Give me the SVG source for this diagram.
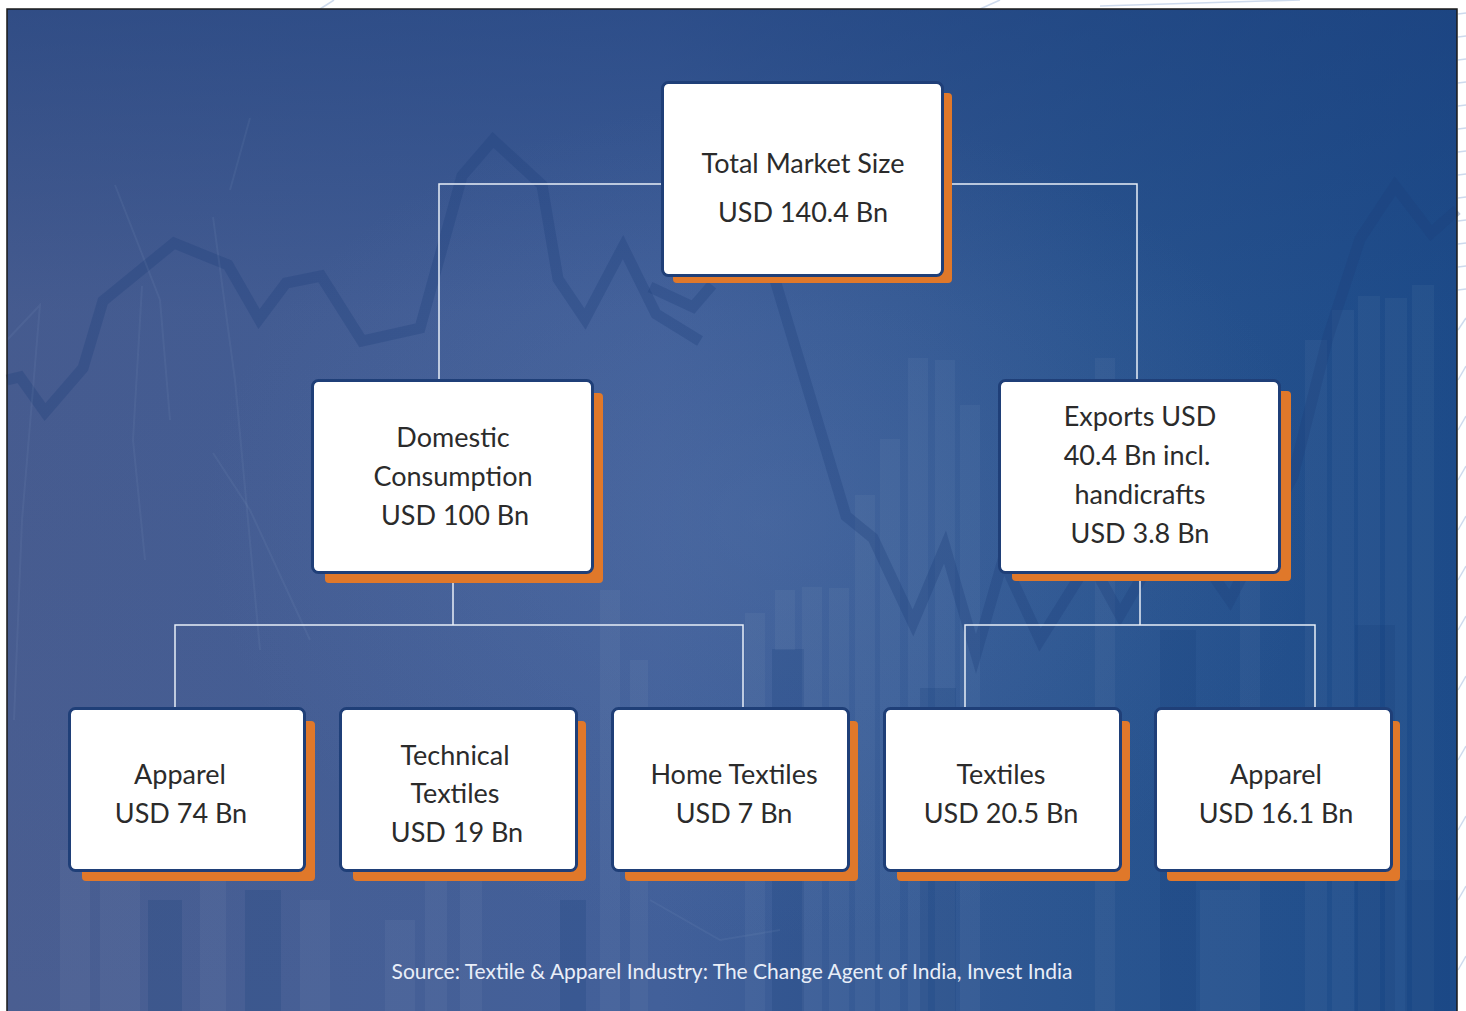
<svg xmlns="http://www.w3.org/2000/svg" width="1466" height="1011" viewBox="0 0 1466 1011">
  <defs>
    <linearGradient id="bgH" x1="0" y1="0" x2="1" y2="0">
      <stop offset="0" stop-color="#4a5e91"/>
      <stop offset="0.45" stop-color="#42609a"/>
      <stop offset="0.75" stop-color="#2a5590"/>
      <stop offset="1" stop-color="#1d4c8a"/>
    </linearGradient>
    <linearGradient id="bgV" x1="0" y1="0" x2="0" y2="1">
      <stop offset="0" stop-color="#1c3f7c" stop-opacity="0.55"/>
      <stop offset="0.3" stop-color="#1c3f7c" stop-opacity="0.1"/>
      <stop offset="1" stop-color="#1c3f7c" stop-opacity="0"/>
    </linearGradient>
    <radialGradient id="glow" cx="0.5" cy="0.5" r="0.5">
      <stop offset="0" stop-color="#6a86b8" stop-opacity="0.25"/>
      <stop offset="1" stop-color="#6a86b8" stop-opacity="0"/>
    </radialGradient>
    <style>
      .shadow { fill: #e0782a; }
      .card { fill: #ffffff; stroke: #1f3f78; stroke-width: 3; }
      .label { font-family: Lato, "Liberation Sans", sans-serif; font-size: 27px; fill: #2b2b2b; text-anchor: middle; }
      .wire { fill: none; stroke: #e8eef7; stroke-width: 1.5; }
      .trend { fill: none; stroke: #1f3f7c; stroke-width: 11; stroke-linejoin: miter; opacity: 0.3; }
      .bar-l { fill: #ffffff; opacity: 0.04; }
      .bar-d { fill: #123a78; opacity: 0.2; }
      .spark { stroke: #9fb4d8; stroke-width: 2; opacity: 0.09; fill: none; }
      .source { font-family: Lato, "Liberation Sans", sans-serif; font-size: 21px; fill: #e9eef8; text-anchor: middle; }
    </style>
  </defs>

  <!-- page margin with faint rules -->
  <rect x="0" y="0" width="1466" height="1011" fill="#ffffff"/>
  <g stroke="#b9cbe6" stroke-width="1.5" opacity="0.7">
    <line x1="1458" y1="14" x2="1466" y2="13"/>
    <line x1="1458" y1="37" x2="1466" y2="36"/>
    <line x1="1458" y1="60" x2="1466" y2="59"/>
    <line x1="1458" y1="83" x2="1466" y2="82"/>
    <line x1="1458" y1="106" x2="1466" y2="105"/>
    <line x1="1458" y1="129" x2="1466" y2="128"/>
    <line x1="1458" y1="152" x2="1466" y2="151"/>
    <line x1="1458" y1="175" x2="1466" y2="174"/>
    <line x1="1458" y1="198" x2="1466" y2="197"/>
    <line x1="1458" y1="221" x2="1466" y2="220"/>
    <line x1="1458" y1="244" x2="1466" y2="243"/>
    <line x1="1458" y1="267" x2="1466" y2="266"/>
    <line x1="1458" y1="290" x2="1466" y2="289"/>
    <line x1="1458" y1="330" x2="1466" y2="318"/>
    <line x1="1458" y1="380" x2="1466" y2="366"/>
    <line x1="1458" y1="430" x2="1466" y2="416"/>
    <line x1="1458" y1="480" x2="1466" y2="466"/>
    <line x1="1458" y1="530" x2="1466" y2="516"/>
    <line x1="1458" y1="580" x2="1466" y2="566"/>
    <line x1="1458" y1="630" x2="1466" y2="616"/>
    <line x1="1458" y1="690" x2="1466" y2="676"/>
    <line x1="1458" y1="760" x2="1466" y2="746"/>
    <line x1="1458" y1="830" x2="1466" y2="816"/>
    <line x1="1458" y1="900" x2="1466" y2="886"/>
    <line x1="1458" y1="970" x2="1466" y2="956"/>
    <line x1="320" y1="9" x2="334" y2="0"/>
    <line x1="980" y1="9" x2="1000" y2="0"/>
    <line x1="1100" y1="6" x2="1300" y2="0"/>
  </g>

  <!-- blue panel background -->
  <g id="background">
    <rect x="7" y="9" width="1450" height="1010" fill="url(#bgH)"/>
    <rect x="7" y="9" width="1450" height="1010" fill="url(#bgV)"/>
    <ellipse cx="760" cy="520" rx="560" ry="420" fill="url(#glow)"/>

    <!-- faint bar chart -->
    <rect class="bar-l" x="60" y="850" width="30" height="170"/>
    <rect class="bar-l" x="100" y="880" width="40" height="140"/>
    <rect class="bar-d" x="148" y="900" width="34" height="120"/>
    <rect class="bar-l" x="200" y="760" width="26" height="260"/>
    <rect class="bar-d" x="245" y="890" width="36" height="130"/>
    <rect class="bar-l" x="300" y="900" width="30" height="120"/>
    <rect class="bar-l" x="385" y="920" width="30" height="100"/>
    <rect class="bar-l" x="425" y="770" width="22" height="250"/>
    <rect class="bar-l" x="460" y="860" width="22" height="160"/>
    <rect class="bar-d" x="560" y="900" width="26" height="120"/>
    <rect class="bar-l" x="600" y="590" width="20" height="430"/>
    <rect class="bar-l" x="630" y="660" width="18" height="360"/>
    <rect class="bar-l" x="745" y="613" width="20" height="407"/>
    <rect class="bar-d" x="772" y="649" width="32" height="371"/>
    <rect class="bar-l" x="775" y="590" width="20" height="60"/>
    <rect class="bar-l" x="802" y="587" width="20" height="433"/>
    <rect class="bar-l" x="829" y="588" width="20" height="432"/>
    <rect class="bar-l" x="855" y="495" width="20" height="525"/>
    <rect class="bar-l" x="880" y="439" width="20" height="581"/>
    <rect class="bar-l" x="908" y="358" width="20" height="662"/>
    <rect class="bar-l" x="935" y="360" width="20" height="660"/>
    <rect class="bar-l" x="960" y="405" width="20" height="615"/>
    <rect class="bar-d" x="920" y="688" width="36" height="332"/>
    <rect class="bar-l" x="1095" y="358" width="20" height="662"/>
    <rect class="bar-d" x="1160" y="630" width="36" height="390"/>
    <rect class="bar-l" x="1240" y="380" width="20" height="640"/>
    <rect class="bar-l" x="1305" y="340" width="22" height="680"/>
    <rect class="bar-l" x="1332" y="310" width="22" height="710"/>
    <rect class="bar-l" x="1358" y="296" width="22" height="724"/>
    <rect class="bar-l" x="1385" y="298" width="22" height="722"/>
    <rect class="bar-l" x="1412" y="285" width="22" height="735"/>
    <rect class="bar-d" x="1355" y="625" width="40" height="395"/>
    <rect class="bar-d" x="1405" y="880" width="45" height="140"/>
    <rect class="bar-l" x="1200" y="890" width="40" height="130"/>

    <!-- faint trend lines -->
    <polyline class="trend" points="7,380 20,377 45,412 83,368 103,301 174,243 228,265 259,319 286,283 321,276 362,341 420,328 462,176 493,140 542,185 558,279 585,319 623,247 656,314 700,341"/>
    <polyline class="trend" points="650,287 693,307 712,285"/>
    <polyline class="trend" points="772,270 846,516 873,538 913,623 945,547 976,654 1003,560 1040,640 1090,560 1120,615 1175,520 1230,600 1293,476 1328,337 1360,239 1395,186 1431,233 1457,210"/>

    <!-- faint network sparks -->
    <polyline class="spark" points="7,340 40,305 22,520 14,720"/>
    <polyline class="spark" points="142,286 133,440 145,560"/>
    <polyline class="spark" points="115,185 160,300 170,420"/>
    <polyline class="spark" points="213,217 235,380 260,650"/>
    <polyline class="spark" points="250,118 230,190"/>
    <polyline class="spark" points="213,453 250,510 310,640"/>
    <polyline class="spark" points="650,900 720,940 780,930"/>
  </g>

  <!-- panel frame -->
  <rect x="7" y="9" width="1450" height="1010" fill="none" stroke="#1a1a1a" stroke-width="1.5"/>

  <!-- connectors -->
  <g id="connectors">
    <polyline class="wire" points="661,184 439,184 439,379"/>
    <polyline class="wire" points="944,184 1137,184 1137,379"/>
    <line class="wire" x1="453" y1="574" x2="453" y2="625"/>
    <polyline class="wire" points="175,707 175,625 743,625 743,707"/>
    <line class="wire" x1="1140" y1="573" x2="1140" y2="625"/>
    <polyline class="wire" points="965,707 965,625 1315,625 1315,707"/>
  </g>

  <!-- nodes -->
  <g id="node-total">
    <rect class="shadow" x="673" y="93" width="279" height="190" rx="4"/>
    <rect class="card" x="662.5" y="82.5" width="280" height="193" rx="6"/>
    <text class="label" x="803" y="173">Total Market Size</text>
    <text class="label" x="803" y="222">USD 140.4 Bn</text>
  </g>

  <g id="node-domestic">
    <rect class="shadow" x="325" y="393" width="278" height="190" rx="4"/>
    <rect class="card" x="312.5" y="380.5" width="280" height="192" rx="6"/>
    <text class="label" x="453" y="447">Domestic</text>
    <text class="label" x="453" y="486">Consumption</text>
    <text class="label" x="455" y="525">USD 100 Bn</text>
  </g>

  <g id="node-exports">
    <rect class="shadow" x="1012" y="391" width="279" height="190" rx="4"/>
    <rect class="card" x="999.5" y="380.5" width="280" height="192" rx="6"/>
    <text class="label" x="1140" y="426">Exports USD</text>
    <text class="label" x="1137" y="465">40.4 Bn incl.</text>
    <text class="label" x="1140" y="504">handicrafts</text>
    <text class="label" x="1140" y="543">USD 3.8 Bn</text>
  </g>

  <g id="node-apparel-domestic">
    <rect class="shadow" x="82" y="721" width="233" height="160" rx="4"/>
    <rect class="card" x="69.5" y="708.5" width="235" height="162" rx="6"/>
    <text class="label" x="180" y="784">Apparel</text>
    <text class="label" x="181" y="823">USD 74 Bn</text>
  </g>

  <g id="node-technical">
    <rect class="shadow" x="353" y="721" width="233" height="160" rx="4"/>
    <rect class="card" x="340.5" y="708.5" width="236" height="162" rx="6"/>
    <text class="label" x="455" y="765">Technical</text>
    <text class="label" x="455" y="803">Textiles</text>
    <text class="label" x="457" y="842">USD 19 Bn</text>
  </g>

  <g id="node-home">
    <rect class="shadow" x="625" y="721" width="233" height="160" rx="4"/>
    <rect class="card" x="612.5" y="708.5" width="236" height="162" rx="6"/>
    <text class="label" x="734" y="784">Home Textiles</text>
    <text class="label" x="734" y="823">USD 7 Bn</text>
  </g>

  <g id="node-textiles">
    <rect class="shadow" x="897" y="721" width="233" height="160" rx="4"/>
    <rect class="card" x="884.5" y="708.5" width="236" height="162" rx="6"/>
    <text class="label" x="1001" y="784">Textiles</text>
    <text class="label" x="1001" y="823">USD 20.5 Bn</text>
  </g>

  <g id="node-apparel-exports">
    <rect class="shadow" x="1167" y="721" width="233" height="160" rx="4"/>
    <rect class="card" x="1155.5" y="708.5" width="236" height="162" rx="6"/>
    <text class="label" x="1276" y="784">Apparel</text>
    <text class="label" x="1276" y="823">USD 16.1 Bn</text>
  </g>

  <text class="source" x="732" y="979">Source: Textile &amp; Apparel Industry: The Change Agent of India, Invest India</text>
</svg>
